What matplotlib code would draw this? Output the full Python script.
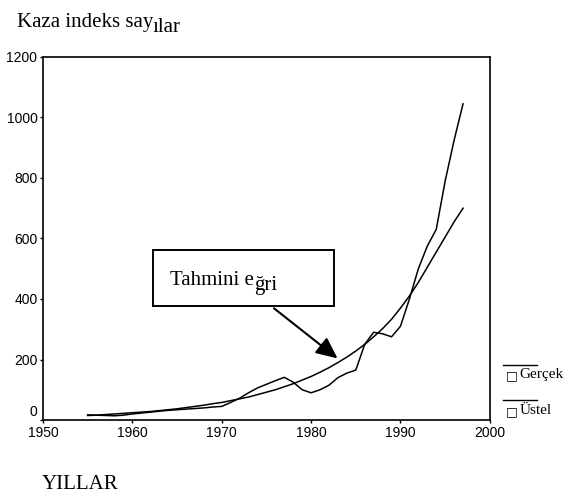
import matplotlib.pyplot as plt
from matplotlib.lines import Line2D
from matplotlib.patches import Rectangle
from matplotlib.transforms import ScaledTranslation

years = list(range(1955, 1998))

gercek = [17, 16, 15, 14, 16, 20, 23, 26, 29, 32, 34, 36, 38, 40, 43, 45,
          58, 72, 90, 106, 118, 130, 141, 125, 100, 90, 100, 115, 140, 155,
          165, 250, 290, 285, 275, 310, 400, 500, 575, 630, 790, 925, 1045]

ustel = [15, 16, 18, 20, 22, 24, 26, 28, 31, 34, 37, 41, 45, 49, 54, 58,
         64, 70, 76, 84, 92, 100, 110, 120, 132, 144, 158, 173, 190, 208,
         228, 250, 275, 302, 333, 370, 410, 455, 505, 555, 605, 655, 700]

xticks = [1950, 1960, 1970, 1980, 1990, 2000]
yticks = [0, 200, 400, 600, 800, 1000, 1200]

serif = 'Liberation Serif'
sans = 'Liberation Sans'

fig = plt.figure(figsize=(5.7, 4.98), dpi=100)
ax = fig.add_axes([0.0754, 0.1566, 0.784, 0.729])

ax.plot(years, gercek, color='black', lw=1.1)
ax.plot(years, ustel, color='black', lw=1.1)

ax.set_xlim(1950, 2000)
ax.set_ylim(0, 1200)
ax.set_xticks(xticks)
ax.set_yticks(yticks)
ax.set_xticklabels([str(v) for v in xticks], fontfamily=sans, fontsize=10)
ax.set_yticklabels([str(v) for v in yticks], fontfamily=sans, fontsize=10)
ax.tick_params(length=2, width=1, pad=2)
for s in ax.spines.values():
    s.set_linewidth(1.2)

# the "0" label sits a bit higher in the original
lab0 = ax.get_yticklabels()[0]
lab0.set_transform(lab0.get_transform() + ScaledTranslation(0, 0.1, fig.dpi_scale_trans))

# annotation box with arrow
ax.add_patch(Rectangle((1962.3, 377), 20.3, 185, fill=False, lw=1.4, color='black'))
ax.text(1964.2, 460, 'Tahmini e', fontfamily=serif, fontsize=15, va='center')
ax.text(1973.6, 445, 'ğri', fontfamily=serif, fontsize=15, va='center')
ax.annotate('', xy=(1983.2, 198), xytext=(1975.6, 375),
            arrowprops=dict(arrowstyle='-|>,head_length=1.3,head_width=0.6',
                            color='black', lw=1.5))

# title and x label
fig.text(0.03, 0.945, 'Kaza indeks say', fontfamily=serif, fontsize=15)
fig.text(0.268, 0.936, 'ılar', fontfamily=serif, fontsize=15)
fig.text(0.074, 0.018, 'YILLAR', fontfamily=serif, fontsize=15)

# legend
fig.add_artist(Line2D([0.882, 0.942], [0.268, 0.268], color='black', lw=1))
fig.text(0.887, 0.238, '□', fontfamily='DejaVu Sans', fontsize=9)
fig.text(0.912, 0.24, 'Gerçek', fontfamily=serif, fontsize=11)
fig.add_artist(Line2D([0.882, 0.942], [0.196, 0.196], color='black', lw=1))
fig.text(0.887, 0.166, '□', fontfamily='DejaVu Sans', fontsize=9)
fig.text(0.912, 0.168, 'Üstel', fontfamily=serif, fontsize=11)

fig.savefig('out.png', dpi=100)
